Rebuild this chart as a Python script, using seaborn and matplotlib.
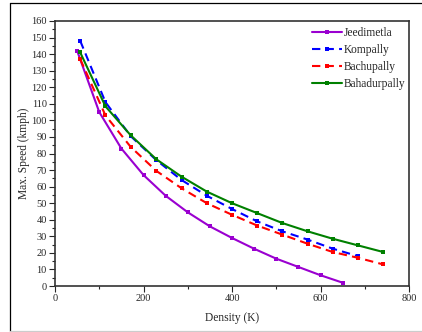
import matplotlib
matplotlib.use("Agg")
import matplotlib.pyplot as plt
from matplotlib.lines import Line2D
from matplotlib.ticker import MultipleLocator
import seaborn as sns
import pandas as pd

sns.set_style("ticks")
plt.rcParams['font.family'] = ['Liberation Serif', 'DejaVu Serif']

jee_x = [50, 100, 150, 200, 250, 300, 350, 400, 450, 500, 550, 600, 650]
jee_y = [142, 105, 83, 67, 54.5, 44.5, 36, 29, 22.5, 16.5, 11.5, 6.5, 2]

kom_x = [57, 114, 171, 229, 286, 343, 400, 457, 514, 571, 628, 685]
kom_y = [148, 111, 90.5, 76, 64, 54.5, 46.5, 39, 33, 28, 22.5, 18]

bac_x = [57, 114, 171, 229, 286, 343, 400, 457, 514, 571, 628, 685, 742]
bac_y = [137, 103, 84, 69.5, 59, 50, 43, 36.5, 31, 25.5, 20.5, 17, 13]

bah_x = [57, 114, 171, 229, 286, 343, 400, 457, 514, 571, 628, 685, 742]
bah_y = [141, 108.5, 91, 76.5, 66, 57, 50, 44, 38, 33, 28.5, 24.5, 20.5]

names = ["Jeedimetla", "Kompally", "Bachupally", "Bahadurpally"]
colors = ["#9A00D0", "#0000FF", "#FF0000", "#008000"]
styles = ["-", (0, (4, 2.5)), (0, (4, 2.5)), "-"]

fig = plt.figure(figsize=(4.22, 3.32), dpi=100)
ax = fig.add_axes([55/422, 1-286/332, (409-55)/422, (286-21)/332])

series = [(jee_x, jee_y), (kom_x, kom_y), (bac_x, bac_y), (bah_x, bah_y)]
for (xs, ys), name, c, ls in zip(series, names, colors, styles):
    df = pd.DataFrame({"Density": xs, "Speed": ys})
    sns.lineplot(data=df, x="Density", y="Speed", ax=ax, color=c, linestyle=ls,
                 linewidth=1.5, marker="s", markersize=3.2, markeredgewidth=0,
                 label=name)

ax.set_xlim(0, 800)
ax.set_ylim(0, 160)
ax.xaxis.set_major_locator(MultipleLocator(200))
ax.xaxis.set_minor_locator(MultipleLocator(100))
ax.yaxis.set_major_locator(MultipleLocator(10))
ax.yaxis.set_minor_locator(MultipleLocator(5))
ax.tick_params(which="major", direction="out", length=4, width=0.8, labelsize=7.5, pad=2)
ax.tick_params(which="minor", direction="out", length=2, width=0.8)
ax.tick_params(top=False, right=False)
for s in ax.spines.values():
    s.set_color("#333333")
    s.set_linewidth(1.2)
    s.set_visible(True)
ax.set_xlabel("Density (K)", fontsize=8.3, labelpad=6)
ax.set_ylabel("Max. Speed (kmph)", fontsize=8.3, labelpad=1)

leg = ax.legend(loc="upper right", frameon=False, fontsize=8.3, handlelength=2.6,
                handletextpad=0.15, labelspacing=0.45, borderaxespad=0.1,
                bbox_to_anchor=(1.005, 1.0))

# figure border lines
fig.add_artist(Line2D([10/422, 10/422], [1/332, 1-3/332], color="black", linewidth=0.9,
                      transform=fig.transFigure))
fig.add_artist(Line2D([10/422, 1.0], [1-3/332, 1-3/332], color="black", linewidth=0.9,
                      transform=fig.transFigure))
fig.add_artist(Line2D([10/422, 1.0], [1.5/332, 1.5/332], color="#cccccc", linewidth=0.9,
                      transform=fig.transFigure))

fig.savefig("out.png", dpi=100)
